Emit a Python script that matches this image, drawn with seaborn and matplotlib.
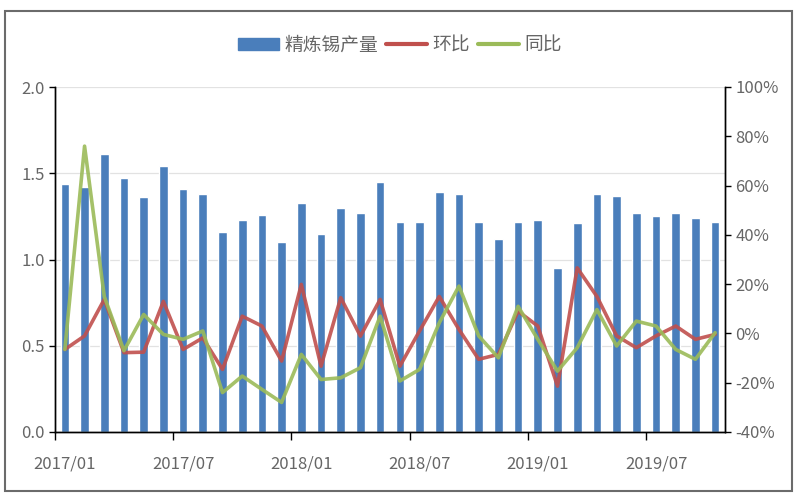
import numpy as np
import pandas as pd
import matplotlib
matplotlib.use('Agg')
import matplotlib.pyplot as plt
import seaborn as sns
from matplotlib.patches import Patch, Rectangle
from matplotlib.lines import Line2D
from matplotlib.ticker import FuncFormatter

# monthly data, 2017/01 - 2019/10
months = [f'{y}/{m:02d}' for y in (2017, 2018, 2019) for m in range(1, 13)][:34]
output = [1.44, 1.42, 1.61, 1.47, 1.36, 1.54, 1.41, 1.38, 1.16, 1.23, 1.26, 1.10,
          1.33, 1.15, 1.30, 1.27, 1.45, 1.22, 1.22, 1.39, 1.38, 1.22, 1.12, 1.22,
          1.23, 0.95, 1.21, 1.38, 1.37, 1.27, 1.25, 1.27, 1.24, 1.22]
mom = [-6.5, -1.0, 13.8, -7.8, -7.6, 13.0, -6.5, -1.8, -14.6, 7.0, 3.0, -11.2,
       19.9, -13.3, 14.5, -1.1, 13.8, -13.3, 1.0, 15.0, 1.6, -10.5, -8.5, 9.0,
       3.0, -21.4, 26.6, 15.0, -1.0, -5.8, -1.0, 3.0, -2.4, -0.4]
yoy = [-6.5, 76.0, 15.0, -7.0, 7.7, -0.4, -2.4, 1.0, -24.0, -17.3, -22.7, -28.0,
       -8.5, -18.7, -18.0, -13.9, 7.0, -19.3, -14.6, 4.3, 19.2, -1.0, -9.9, 11.0,
       -2.4, -15.3, -5.8, 9.7, -5.1, 5.0, 3.0, -6.5, -10.5, 0.3]
tick_labels = ['2017/01', '2017/07', '2018/01', '2018/07', '2019/01', '2019/07']

df = pd.DataFrame({'month': months, 'output': output,
                   'mom': np.array(mom) / 100, 'yoy': np.array(yoy) / 100})
df['pos'] = np.arange(len(df))

BLUE = '#4a7ebb'
RED = '#c0504d'
GREEN = '#9bbb59'
GREY = '#666666'

sns.set_style('white')
plt.rcParams['font.family'] = ['Noto Sans CJK SC', 'DejaVu Sans']

fig = plt.figure(figsize=(8, 5), dpi=100)
ax = fig.add_axes([0.06875, 0.136, 0.8375, 0.69])

sns.barplot(data=df, x='month', y='output', color=BLUE, width=0.44,
            saturation=1, ax=ax, zorder=2)
ax.set_ylim(0, 2.0)
ax.set_yticks([0, 0.5, 1.0, 1.5, 2.0])
ax.yaxis.set_major_formatter(FuncFormatter(lambda v, p: f'{v:.1f}'))
ax.set_xlim(-0.5, len(df) - 0.5)
ax.grid(axis='y', color='#e2e2e2', lw=0.9, zorder=0)
ax.set_axisbelow(True)

# labels centred on the month, tick marks on the month boundary
label_pos = [0, 6, 12, 18, 24, 30]
ax.set_xticks(label_pos, tick_labels)
ax.set_xticks([p - 0.5 for p in label_pos], minor=True)
ax.tick_params(axis='x', which='major', length=0, pad=17, labelsize=12, labelcolor=GREY)
ax.tick_params(axis='x', which='minor', bottom=True, length=6, width=1,
               color='black', direction='out')
ax.tick_params(axis='y', length=4, width=1, color='black', direction='out',
               labelsize=12, labelcolor=GREY, left=True)
ax.set_xlabel('')
ax.set_ylabel('')

ax2 = ax.twinx()
sns.lineplot(data=df, x='pos', y='mom', color=RED, lw=2.6, alpha=0.9, ax=ax2)
sns.lineplot(data=df, x='pos', y='yoy', color=GREEN, lw=2.6, alpha=0.9, ax=ax2)
ax2.set_ylim(-0.4, 1.0)
ax2.set_yticks(np.arange(-0.4, 1.01, 0.2))
ax2.yaxis.set_major_formatter(FuncFormatter(lambda v, p: f'{v * 100:.0f}%'))
ax2.tick_params(axis='y', length=4, width=1, color='black', direction='out',
                labelsize=12, labelcolor=GREY, right=True)
ax2.set_xlim(-0.5, len(df) - 0.5)
ax2.set_xlabel('')
ax2.set_ylabel('')

for a in (ax, ax2):
    a.spines['top'].set_visible(False)
    for s in ('left', 'right', 'bottom'):
        a.spines[s].set_color('black')
        a.spines[s].set_linewidth(1)

handles = [Patch(color=BLUE), Line2D([], [], color=RED, lw=3),
           Line2D([], [], color=GREEN, lw=3)]
fig.legend(handles, ['精炼锡产量', '环比', '同比'], loc='center', ncol=3,
           bbox_to_anchor=(0.5, 0.91), frameon=False, fontsize=13.5,
           handlelength=2.2, handleheight=0.6, handletextpad=0.3,
           columnspacing=0.4, labelcolor=GREY)

# outer frame
fig.patches.append(Rectangle((0.00625, 0.018), 0.984, 0.96, transform=fig.transFigure,
                             fill=False, edgecolor='#6b6b6b', lw=1.5))

fig.savefig('out.png', dpi=100)
